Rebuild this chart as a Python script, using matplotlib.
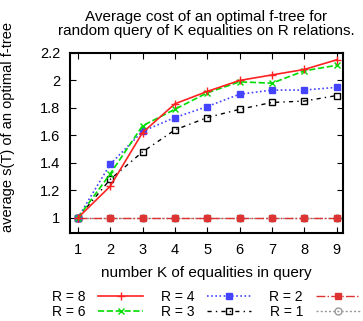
import matplotlib
matplotlib.use("Agg")
import matplotlib.pyplot as plt

plt.rcParams['font.family'] = ['Liberation Sans', 'DejaVu Sans']

K = [1, 2, 3, 4, 5, 6, 7, 8, 9]
r8 = [1.0, 1.23, 1.62, 1.83, 1.92, 2.00, 2.04, 2.08, 2.15]
r6 = [1.0, 1.32, 1.67, 1.79, 1.91, 1.99, 1.98, 2.07, 2.11]
r4 = [1.0, 1.39, 1.63, 1.73, 1.81, 1.90, 1.93, 1.93, 1.95]
r3 = [1.0, 1.28, 1.48, 1.64, 1.73, 1.79, 1.84, 1.85, 1.89]
r2 = [1.0, 1.0, 1.0, 1.0, 1.0, 1.0, 1.0, 1.0, 1.0]
r1 = [1.0, 1.0, 1.0, 1.0, 1.0, 1.0, 1.0, 1.0, 1.0]

fig = plt.figure(figsize=(3.63, 3.21), dpi=100)
ax = fig.add_axes([0.193, 0.274, 0.752, 0.561])

ax.plot(K, r1, color='#999999', ls=(0, (1.5, 1.5)), lw=1, marker='o', mfc='none', ms=5, label='R = 1')
ax.plot(K, r2, color='#dd3333', ls='-.', lw=1, marker='s', ms=4.5, label='R = 2')
ax.plot(K, r3, color='black', ls=(0, (3, 3, 1, 3)), lw=1, marker='s', mfc='none', ms=5, label='R = 3')
ax.plot(K, r4, color='#4444ff', ls=(0, (1, 1.5)), lw=1.2, marker='s', ms=4, label='R = 4')
ax.plot(K, r6, color='#00dd00', ls='--', lw=1.2, marker='x', ms=5, label='R = 6')
ax.plot(K, r8, color='#ff2222', ls='-', lw=1.2, marker='+', ms=6, label='R = 8')

ax.set_xlim(0.76, 9.2)
ax.set_ylim(0.89, 2.2)
ax.set_xticks(K)
ax.set_yticks([1, 1.2, 1.4, 1.6, 1.8, 2, 2.2])
ax.set_yticklabels(['1', '1.2', '1.4', '1.6', '1.8', '2', '2.2'])
ax.tick_params(direction='in', top=True, right=True, length=4, labelsize=10.5, pad=7)
for s in ax.spines.values():
    s.set_linewidth(1.5)

ax.set_title('Average cost of an optimal f-tree for\nrandom query of K equalities on R relations.',
             fontsize=11, linespacing=1.0, pad=13)
ax.set_xlabel('number K of equalities in query', fontsize=11, labelpad=7)
ax.set_ylabel('average s(T) of an optimal f-tree', fontsize=10.5)
ax.yaxis.set_label_coords(-0.2, 0.59)

h, l = ax.get_legend_handles_labels()
order = [5, 4, 3, 2, 1, 0]
ax.legend([h[i] for i in order], [l[i] for i in order], ncol=3, markerfirst=False,
          frameon=False, fontsize=10, handlelength=3.2, columnspacing=1.3,
          handletextpad=0.9, labelspacing=0.05,
          loc='upper left', bbox_to_anchor=(-0.085, -0.285), borderaxespad=0)

fig.savefig('out.png', dpi=100)
